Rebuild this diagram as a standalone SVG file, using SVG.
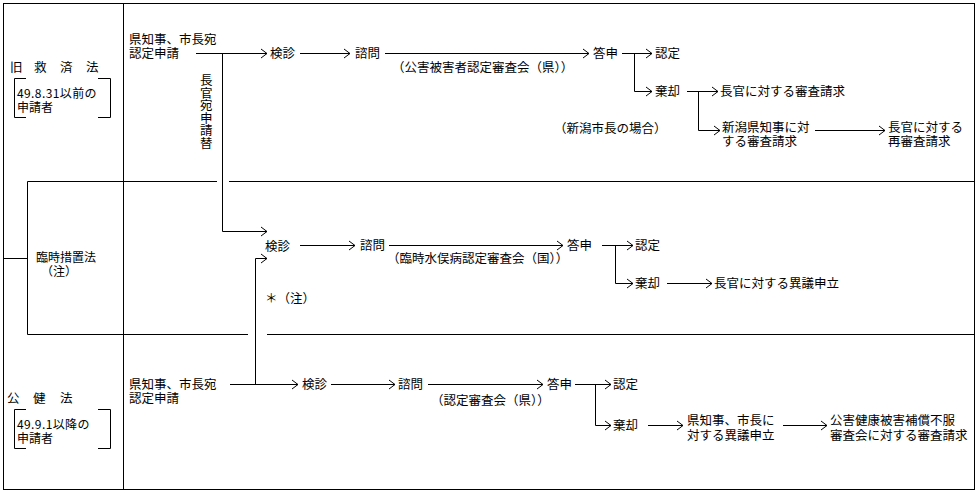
<svg xmlns="http://www.w3.org/2000/svg" width="978" height="493" viewBox="0 0 978 493">
<style>
.ln{stroke:#000;stroke-width:1;fill:none}
.ar{marker-end:url(#ah)}
.t{font-family:"Noto Sans CJK JP","Noto Sans CJK SC",sans-serif;font-size:12.5px;fill:#000}
.s{font-size:12px}
</style>
<defs>
<marker id="ah" viewBox="-8 -6 9 12" markerWidth="9" markerHeight="12" refX="0" refY="0" orient="auto" markerUnits="userSpaceOnUse">
<path d="M-6,-4.5 L0,0 L-6,4.5" fill="none" stroke="#000" stroke-width="1"/>
</marker>
</defs>
<rect width="978" height="493" fill="#fff"/>

<g id="frame" class="ln">
<rect x="3.5" y="3.5" width="971" height="486"/>
<path d="M123.5,3.5 V489.5"/>
<path d="M27.5,181.5 H217 M229,181.5 H974.5"/>
<path d="M27.5,334.5 H248 M267,334.5 H974.5"/>
<path d="M27.5,181.5 V334.5"/>
<path d="M3.5,258.5 H27.5"/>
</g>

<g id="sec-kyusai">
<text class="t" x="10 34 60 86" y="71.5">旧救済法</text>
<path class="ln" d="M26,78.5 H14.5 V117.5 H26 M98,78.5 H110.5 V117.5 H98"/>
<text class="t s" x="17" y="98" letter-spacing="0.4">49.8.31以前の</text>
<text class="t s" x="17" y="111.5">申請者</text>
</g>

<g id="sec-rinji">
<text class="t s" x="36" y="262">臨時措置法</text>
<text class="t s" x="41" y="275.5">（注）</text>
</g>

<g id="sec-koken">
<text class="t" x="7 33 60" y="402.5">公健法</text>
<path class="ln" d="M26,409.5 H14.5 V448.5 H26 M98,409.5 H110.5 V448.5 H98"/>
<text class="t s" x="17" y="429" letter-spacing="0.4">49.9.1以降の</text>
<text class="t s" x="17" y="442.5">申請者</text>
</g>

<!-- top row nodes -->
<g id="n-top-apply"><text class="t" x="129" y="44">県知事、市長宛</text><text class="t" x="129" y="57.5">認定申請</text></g>
<g id="n-top-kenshin"><text class="t" x="270" y="57.5">検診</text></g>
<g id="n-top-shimon"><text class="t" x="355" y="57.5">諮問</text></g>
<g id="n-top-council"><text class="t" x="392" y="71.5">（公害被害者認定審査会（県））</text></g>
<g id="n-top-toshin"><text class="t" x="593" y="57.5">答申</text></g>
<g id="n-top-nintei"><text class="t" x="655" y="57.5">認定</text></g>
<g id="n-top-kikyaku"><text class="t" x="655" y="96">棄却</text></g>
<g id="n-top-chokan"><text class="t" x="720" y="96">長官に対する審査請求</text></g>
<g id="n-top-niigata-note"><text class="t" x="554" y="132.5">（新潟市長の場合）</text></g>
<g id="n-top-niigata"><text class="t" x="722" y="132">新潟県知事に対</text><text class="t" x="722" y="145.5">する審査請求</text></g>
<g id="n-top-sai"><text class="t" x="888" y="132">長官に対する</text><text class="t" x="888" y="145.5">再審査請求</text></g>
<g id="n-kaekae"><text class="t" x="200 200 200 200 200 200" y="85 97.5 110 122.5 135 147.5">長官宛申請替</text></g>

<!-- middle row nodes -->
<g id="n-mid-kenshin"><text class="t" x="265" y="250.5">検診</text></g>
<g id="n-mid-shimon"><text class="t" x="360" y="249.5">諮問</text></g>
<g id="n-mid-council"><text class="t" x="387" y="262.5">（臨時水俣病認定審査会（国））</text></g>
<g id="n-mid-toshin"><text class="t" x="567" y="249.5">答申</text></g>
<g id="n-mid-nintei"><text class="t" x="635" y="249.5">認定</text></g>
<g id="n-mid-kikyaku"><text class="t" x="635" y="287.5">棄却</text></g>
<g id="n-mid-igi"><text class="t" x="714" y="287.5">長官に対する異議申立</text></g>
<g id="n-mid-note"><text class="t" x="265" y="302.5">＊（注）</text></g>

<!-- bottom row nodes -->
<g id="n-bot-apply"><text class="t" x="129" y="389">県知事、市長宛</text><text class="t" x="129" y="402.5">認定申請</text></g>
<g id="n-bot-kenshin"><text class="t" x="302" y="388.5">検診</text></g>
<g id="n-bot-shimon"><text class="t" x="398" y="388.5">諮問</text></g>
<g id="n-bot-council"><text class="t" x="431" y="404.5">（認定審査会（県））</text></g>
<g id="n-bot-toshin"><text class="t" x="547" y="388.5">答申</text></g>
<g id="n-bot-nintei"><text class="t" x="613" y="388.5">認定</text></g>
<g id="n-bot-kikyaku"><text class="t" x="613" y="429.5">棄却</text></g>
<g id="n-bot-igi"><text class="t" x="687" y="424.5">県知事、市長に</text><text class="t" x="687" y="439.5">対する異議申立</text></g>
<g id="n-bot-fufuku"><text class="t" x="830" y="424.5">公害健康被害補償不服</text><text class="t" x="830" y="439.5">審査会に対する審査請求</text></g>

<g id="connectors" class="ln">
<!-- top -->
<path class="ar" d="M196,53.5 H267"/>
<path class="ar" d="M300,53.5 H350"/>
<path class="ar" d="M385,53.5 H589"/>
<path class="ar" d="M622,53.5 H652"/>
<path class="ar" d="M634.5,53.5 V91.5 H652"/>
<path class="ar" d="M687,91.5 H718"/>
<path class="ar" d="M698.5,91.5 V130.5 H720"/>
<path class="ar" d="M815,130.5 H885"/>
<path class="ar" d="M222.5,53.5 V231.5 H267"/>
<!-- middle -->
<path class="ar" d="M255.5,384.5 V258.5 H267"/>
<path class="ar" d="M300,245.5 H355"/>
<path class="ar" d="M389,245.5 H563"/>
<path class="ar" d="M602,245.5 H633"/>
<path class="ar" d="M615.5,245.5 V283.5 H633"/>
<path class="ar" d="M667,283.5 H712"/>
<!-- bottom -->
<path class="ar" d="M230,384.5 H298"/>
<path class="ar" d="M331,384.5 H395"/>
<path class="ar" d="M428,384.5 H543"/>
<path class="ar" d="M575,384.5 H611"/>
<path class="ar" d="M595.5,384.5 V425.5 H611"/>
<path class="ar" d="M648,425.5 H683"/>
<path class="ar" d="M783,425.5 H827"/>
</g>
</svg>
